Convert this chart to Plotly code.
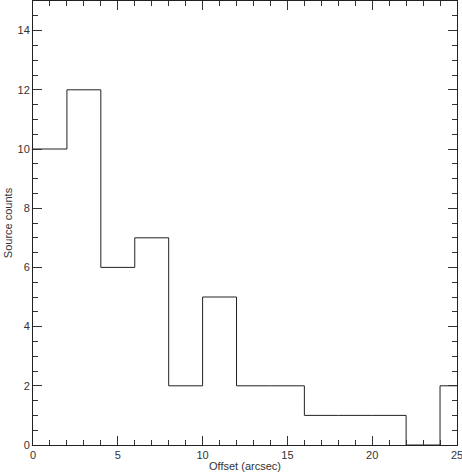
import plotly.graph_objects as go

# histogram of source offsets, bins of 2 arcsec
bin_edges = [0, 2, 4, 6, 8, 10, 12, 14, 16, 18, 20, 22, 24, 26]
counts = [10, 12, 6, 7, 2, 5, 2, 2, 1, 1, 1, 0, 2]

x_ticks = [0, 5, 10, 15, 20, 25]
y_ticks = [0, 2, 4, 6, 8, 10, 12, 14]

# step outline: repeat last count so the final bin is closed
step_x = bin_edges
step_y = counts + [counts[-1]]

fig = go.Figure()
fig.add_trace(go.Scatter(x=step_x, y=step_y, mode='lines', line_shape='hv',
                         line=dict(color='#222222', width=1), showlegend=False))

font = dict(family="Liberation Sans, Arial, sans-serif", size=11, color='#333333')
axis_common = dict(showgrid=False, zeroline=False, showline=True, linecolor='#222222',
                   linewidth=1, mirror='ticks', ticks='inside', ticklen=9,
                   tickcolor='#333333', tickwidth=1, tickfont=font, automargin=False,
                   ticklabeloverflow='allow')

fig.update_xaxes(range=[0, 25], tickvals=x_ticks, ticktext=[str(v) for v in x_ticks],
                 minor=dict(tickmode='linear', tick0=0, dtick=1, ticks='inside',
                            ticklen=5, tickcolor='#333333', showgrid=False),
                 title=dict(text="Offset (arcsec)", font=font, standoff=2), **axis_common)
fig.update_yaxes(range=[0, 15], tickvals=y_ticks, ticktext=[str(v) for v in y_ticks],
                 minor=dict(tickmode='linear', tick0=0, dtick=0.5, ticks='inside',
                            ticklen=5, tickcolor='#333333', showgrid=False),
                 title=dict(text="Source counts", font=font, standoff=2), **axis_common)

fig.update_layout(width=462, height=476, margin=dict(l=33, r=5, t=1, b=31),
                  plot_bgcolor='white', paper_bgcolor='white', font=font)
# drop the page's default body margin so the figure sits at the window corner
fig.write_html("out.html", config={'displayModeBar': False},
               post_script="document.body.style.margin='0';")
